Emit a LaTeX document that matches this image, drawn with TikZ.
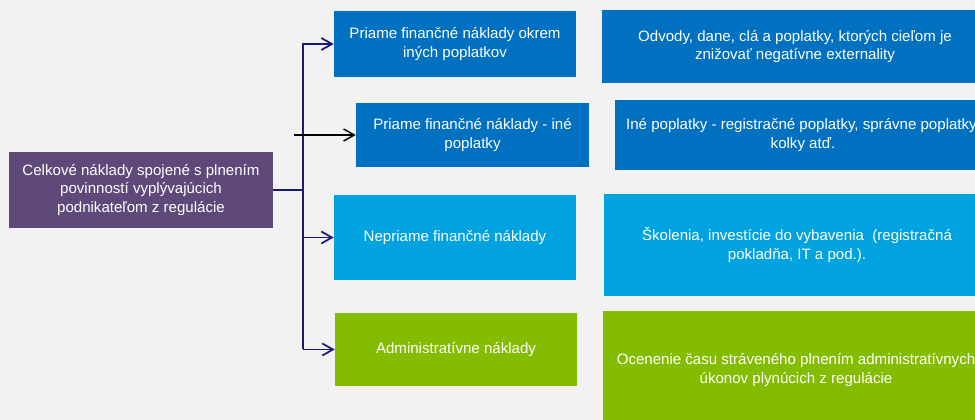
\documentclass[tikz,border=0pt]{standalone}
\usepackage{fontspec}
\setmainfont{Liberation Sans}
\usetikzlibrary{arrows.meta}
\definecolor{regpurple}{RGB}{95,73,122}
\definecolor{regblue}{RGB}{0,112,192}
\definecolor{reglightblue}{RGB}{0,163,224}
\definecolor{reggreen}{RGB}{132,189,0}
\definecolor{regnavy}{RGB}{28,26,120}
\definecolor{regbg}{RGB}{242,242,242}

\begin{document}
\begin{tikzpicture}[x=0.75pt, y=-0.75pt,
  costbox/.style={rectangle, inner sep=0pt, text=white, align=center,
    font=\fontsize{11.3}{13.8}\selectfont},
  link/.style={regnavy, line width=1.3pt, >={Straight Barb[length=8pt,width=9pt]}}]
\useasboundingbox (0,0) rectangle (975,420);
\fill [regbg] (0,0) rectangle (975,420);
\clip (0,0) rectangle (975,420);

\node [costbox, fill=regpurple, minimum width=198pt, minimum height=57pt] (total) at (141,190)
  {Celkové náklady spojené s plnením\\povinností vyplývajúcich\\podnikateľom z regulácie};

\node [costbox, fill=regblue, minimum width=181.5pt, minimum height=49.5pt] (direct) at (455,44)
  {Priame finančné náklady okrem\\iných poplatkov};
\node [costbox, fill=regblue, minimum width=174.75pt, minimum height=48pt] (fees) at (472.5,135)
  {Priame finančné náklady - iné\\poplatky};
\node [costbox, fill=reglightblue, minimum width=181.5pt, minimum height=63.75pt] (indirect) at (455,237.5)
  {Nepriame finančné náklady};
\node [costbox, fill=reggreen, minimum width=181.5pt, minimum height=54.75pt] (admin) at (456,349.5)
  {Administratívne náklady};

\node [costbox, fill=regblue, minimum width=289.5pt, minimum height=54.75pt] (directtxt) at (795,46.5)
  {Odvody, dane, clá a poplatky, ktorých cieľom je\\znižovať negatívne externality};
\node [costbox, fill=regblue, minimum width=282pt, minimum height=52.5pt] (feestxt) at (803,135)
  {Iné poplatky - registračné poplatky, správne poplatky,\\kolky atď.};
\node [costbox, fill=reglightblue, minimum width=289.5pt, minimum height=76.5pt] (indirecttxt) at (797,245)
  {Školenia, investície do vybavenia~ (registračná\\pokladňa, IT a pod.).};
\node [costbox, fill=reggreen, minimum width=289.5pt, minimum height=88.5pt] (admintxt) at (796,370)
  {Ocenenie času stráveného plnením administratívnych\\úkonov plynúcich z regulácie};

% trunk
\coordinate (trunkbot) at (303,349.5);
\coordinate (stub) at (294,135);

\draw [link] (total.east) -- (total.east -| trunkbot);
\draw [link, ->] (trunkbot) |- (direct.west);
\draw [link, ->] (trunkbot |- indirect.west) -- (indirect.west);
\draw [link, ->] (trunkbot) -- (admin.west);
\draw [>={Straight Barb[length=8pt,width=9pt]}, ->, line width=1.1pt] (stub) -- (fees.west);

\end{tikzpicture}
\end{document}
